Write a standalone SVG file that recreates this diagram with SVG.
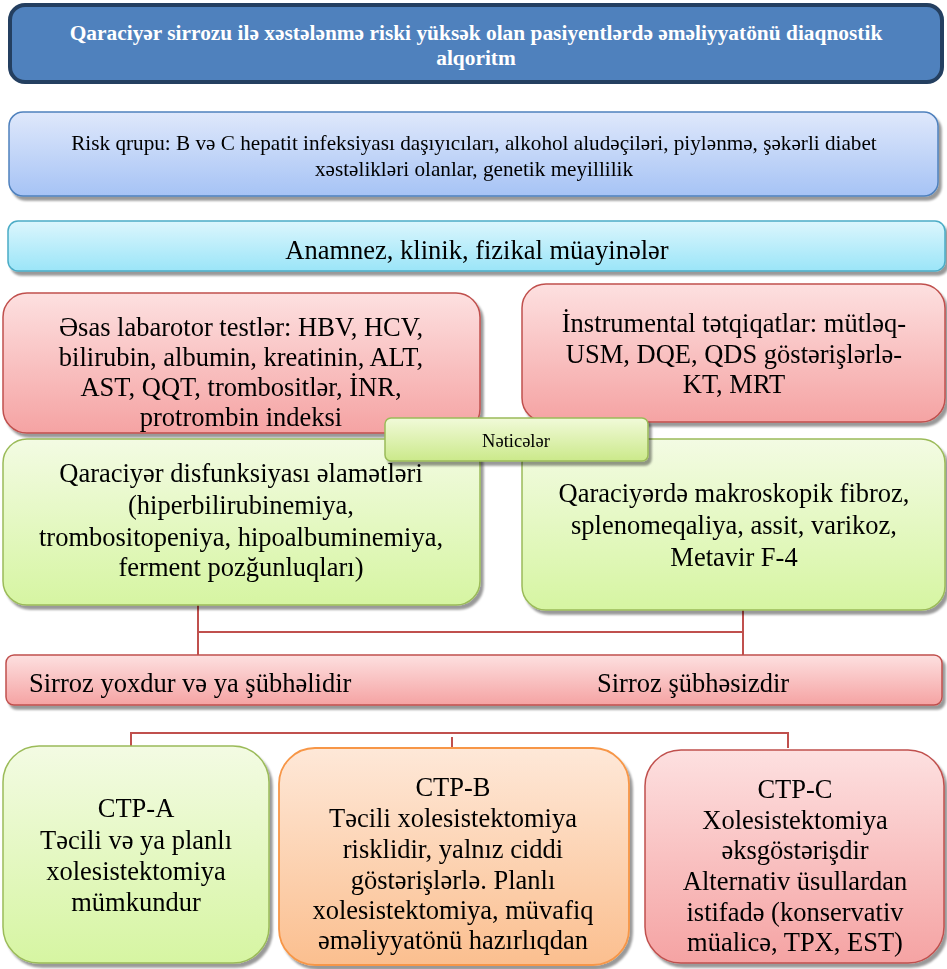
<svg xmlns="http://www.w3.org/2000/svg" width="947" height="969" viewBox="0 0 947 969">
<defs>
<filter id="sh" x="-5%" y="-10%" width="110%" height="130%">
<feDropShadow dx="3" dy="4" stdDeviation="1.2" flood-color="#000" flood-opacity="0.4"/>
</filter>
<linearGradient id="gBlue" x1="0" y1="0" x2="0" y2="1">
<stop offset="0" stop-color="#dfe8fb"/><stop offset="1" stop-color="#a6c3f5"/>
</linearGradient>
<linearGradient id="gCyan" x1="0" y1="0" x2="0" y2="1">
<stop offset="0" stop-color="#dcf6fd"/><stop offset="1" stop-color="#9be5f8"/>
</linearGradient>
<linearGradient id="gRed" x1="0" y1="0" x2="0" y2="1">
<stop offset="0" stop-color="#fde0e0"/><stop offset="1" stop-color="#f5a3a3"/>
</linearGradient>
<linearGradient id="gGreen" x1="0" y1="0" x2="0" y2="1">
<stop offset="0" stop-color="#f3fbe3"/><stop offset="1" stop-color="#d6f5a2"/>
</linearGradient>
<linearGradient id="gGreen2" x1="0" y1="0" x2="0" y2="1">
<stop offset="0" stop-color="#f1fad9"/><stop offset="1" stop-color="#cbe98a"/>
</linearGradient>
<linearGradient id="gOrange" x1="0" y1="0" x2="0" y2="1">
<stop offset="0" stop-color="#fee8d8"/><stop offset="1" stop-color="#fbbf8f"/>
</linearGradient>
</defs>
<style>
text{font-family:"Liberation Serif","Times New Roman",serif;fill:#000;text-anchor:middle;dominant-baseline:central}
.t{fill:#fff;font-weight:bold;font-size:21.4px}
.s16{font-size:21.2px}
.s22{font-size:26.5px}
.s14{font-size:18.5px}
.red{fill:url(#gRed);stroke:#c0504d;stroke-width:1.5}
.green{fill:url(#gGreen);stroke:#9bbb59;stroke-width:1.5}
.conn{stroke:#c0504d;stroke-width:2;fill:none}
</style>

<g id="connectors">
<path class="conn" d="M198 605 V655 M743 610 V655 M198 632 H743"/>
<path class="conn" d="M131 746 V733 H788 V748 M452 737 V749"/>
</g>

<g id="title">
<rect x="10" y="5" width="932" height="77" rx="15" fill="#4f81bd" stroke="#243f60" stroke-width="4"/>
<text class="t" x="476" y="33">Qaraciyər sirrozu ilə xəstələnmə riski yüksək olan pasiyentlərdə əməliyyatönü diaqnostik</text>
<text class="t" x="476" y="58">alqoritm</text>
</g>

<g id="risk" filter="url(#sh)">
<rect x="9" y="112" width="929" height="84" rx="14" fill="url(#gBlue)" stroke="#4f81bd" stroke-width="1.5"/>
<text class="s16" x="474" y="143">Risk qrupu: B və C hepatit infeksiyası daşıyıcıları, alkohol aludəçiləri, piylənmə, şəkərli diabet</text>
<text class="s16" x="474" y="169">xəstəlikləri olanlar, genetik meyillilik</text>
</g>

<g id="anamnez" filter="url(#sh)">
<rect x="8" y="221" width="937" height="50" rx="10" fill="url(#gCyan)" stroke="#4bacc6" stroke-width="1.5"/>
<text class="s22" x="477" y="250">Anamnez, klinik, fizikal müayinələr</text>
</g>

<g id="lab" filter="url(#sh)">
<rect class="red" x="3" y="293" width="477" height="140" rx="24"/>
<text class="s22" x="241" y="327">Əsas labarotor testlər: HBV, HCV,</text>
<text class="s22" x="241" y="357">bilirubin, albumin, kreatinin, ALT,</text>
<text class="s22" x="241" y="387">AST, QQT, trombositlər, İNR,</text>
<text class="s22" x="241" y="417">protrombin indeksi</text>
</g>

<g id="instrumental" filter="url(#sh)">
<rect class="red" x="522" y="284" width="423" height="138" rx="24"/>
<text class="s22" x="734" y="323">İnstrumental tətqiqatlar: mütləq-</text>
<text class="s22" x="734" y="354">USM, DQE, QDS göstərişlərlə-</text>
<text class="s22" x="734" y="384">KT, MRT</text>
</g>

<g id="dysfunction" filter="url(#sh)">
<rect class="green" x="3" y="439" width="477" height="166" rx="24"/>
<text class="s22" x="241" y="473">Qaraciyər disfunksiyası əlamətləri</text>
<text class="s22" x="241" y="505">(hiperbilirubinemiya,</text>
<text class="s22" x="241" y="537">trombositopeniya, hipoalbuminemiya,</text>
<text class="s22" x="241" y="567">ferment pozğunluqları)</text>
</g>

<g id="fibrosis" filter="url(#sh)">
<rect class="green" x="522" y="439" width="423" height="171" rx="24"/>
<text class="s22" x="734" y="493">Qaraciyərdə makroskopik fibroz,</text>
<text class="s22" x="734" y="525">splenomeqaliya, assit, varikoz,</text>
<text class="s22" x="734" y="557">Metavir F-4</text>
</g>

<g id="neticeler" filter="url(#sh)">
<rect x="385" y="418" width="263" height="43" rx="6" fill="url(#gGreen2)" stroke="#9bbb59" stroke-width="1.5"/>
<text class="s14" x="516" y="441">Nəticələr</text>
</g>

<g id="sirroz" filter="url(#sh)">
<rect class="red" x="6" y="655" width="936" height="50" rx="8"/>
<text class="s22" x="29" y="683" style="text-anchor:start">Sirroz yoxdur və ya şübhəlidir</text>
<text class="s22" x="597" y="683" style="text-anchor:start">Sirroz şübhəsizdir</text>
</g>

<g id="ctp-a" filter="url(#sh)">
<rect class="green" x="3" y="746" width="266" height="217" rx="36"/>
<text class="s22" x="136" y="808">CTP-A</text>
<text class="s22" x="136" y="840">Təcili və ya planlı</text>
<text class="s22" x="136" y="871">xolesistektomiya</text>
<text class="s22" x="136" y="902">mümkundur</text>
</g>

<g id="ctp-b" filter="url(#sh)">
<rect x="279" y="748" width="350" height="217" rx="36" fill="url(#gOrange)" stroke="#f79646" stroke-width="1.8"/>
<text class="s22" x="453" y="787">CTP-B</text>
<text class="s22" x="453" y="818">Təcili xolesistektomiya</text>
<text class="s22" x="453" y="849">risklidir, yalnız ciddi</text>
<text class="s22" x="453" y="880">göstərişlərlə. Planlı</text>
<text class="s22" x="453" y="910">xolesistektomiya, müvafiq</text>
<text class="s22" x="453" y="940">əməliyyatönü hazırlıqdan</text>
</g>

<g id="ctp-c" filter="url(#sh)">
<rect class="red" x="645" y="750" width="299" height="213" rx="36"/>
<text class="s22" x="795" y="789">CTP-C</text>
<text class="s22" x="795" y="820">Xolesistektomiya</text>
<text class="s22" x="795" y="850">əksgöstərişdir</text>
<text class="s22" x="795" y="881">Alternativ üsullardan</text>
<text class="s22" x="795" y="912">istifadə (konservativ</text>
<text class="s22" x="795" y="942">müalicə, TPX, EST)</text>
</g>
</svg>
